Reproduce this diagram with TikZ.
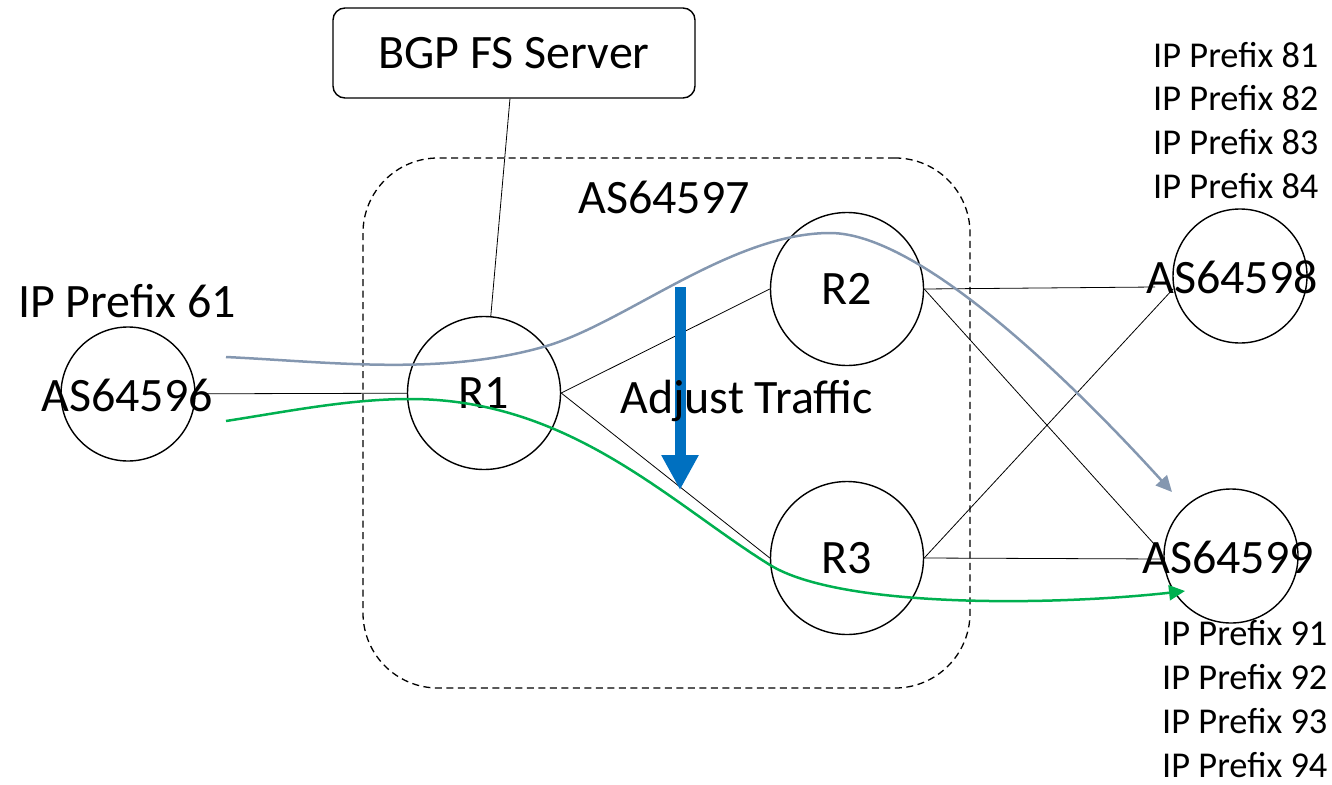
\documentclass[tikz,border=0pt]{standalone}
\usepackage{fontspec}
\setmainfont{Carlito}
\usepackage{tikz}
\usetikzlibrary{arrows.meta}

\newcommand{\bigtext}{\fontsize{48}{57}\selectfont}
\newcommand{\smalltext}{\fontsize{36.4}{44}\selectfont}

\definecolor{flowgray}{HTML}{8497B0}
\definecolor{flowgreen}{HTML}{00B050}
\definecolor{adjblue}{HTML}{0070C0}

\tikzset{
  router/.style={circle, draw, line width=1.4pt, minimum size=153pt, inner sep=0pt, font=\bigtext},
  asring/.style={circle, draw, line width=1.4pt, minimum size=134pt, inner sep=0pt},
  aslabel/.style={inner sep=0pt, font=\bigtext},
  server/.style={rectangle, draw, rounded corners=12pt, line width=1.4pt, minimum width=362pt, minimum height=90pt, font=\bigtext},
  asbox/.style={rectangle, draw, dashed, dash pattern=on 7pt off 4.5pt, rounded corners=75pt, line width=1.3pt, minimum width=607pt, minimum height=530pt},
  pfxtext/.style={inner sep=0pt, font=\smalltext, anchor=base west},
  link/.style={line width=0.8pt},
  flow/.style={line width=2.5pt, -{Triangle[length=16pt,width=15pt]}},
  adjust/.style={adjblue, line width=11pt, -{Triangle[length=35pt,width=35pt]}}
}

\begin{document}
\begin{tikzpicture}[x=1pt, y=-1pt]
  \useasboundingbox (0,0) rectangle (1332,784);

  % Define nodes
  \node[asbox] (as97) at (666.5,423) {};
  \node[server] (server) at (514,53) {BGP FS Server};
  \node[router] (R1) at (484,393) {R1};
  \node[router] (R2) at (847,289) {R2};
  \node[router] (R3) at (847,558) {R3};
  \node[asring] (as96) at (128,394) {};
  \node[asring] (as98) at (1240,276) {};
  \node[asring] (as99) at (1231,556) {};
  \node[aslabel] (as96 label) at (127,395) {AS64596};
  \node[aslabel] (as98 label) at (1232,277) {AS64598};
  \node[aslabel] (as99 label) at (1228,557) {AS64599};
  \node[aslabel, anchor=base west] (as97 label) at (578,213) {AS64597};
  \node[aslabel, anchor=base west] (p61) at (18,317) {IP Prefix 61};

  \foreach \n [count=\i from 0] in {81,82,83,84}
    \node[pfxtext] (p\n) at (1153,67+43.7*\i) {IP Prefix \n};
  \foreach \n [count=\i from 0] in {91,92,93,94}
    \node[pfxtext] (p\n) at (1162,645+44*\i) {IP Prefix \n};

  % Free ends
  \coordinate (as98 a) at (1155,287);
  \coordinate (as98 b) at (1173,289);
  \coordinate (as99 a) at (1155,545);
  \coordinate (as99 b) at (1164,559);
  \coordinate (adj top) at (680,287);
  \coordinate (adj tip) at (680,490);
  \coordinate (gray in) at (226,357);
  \coordinate (gray out) at (1172,492);
  \coordinate (green in) at (226,421);
  \coordinate (green out) at (1185,591);

  % Connect the nodes
  \draw[link] (server) -- (R1);
  \draw[link] (as96) -- (R1);
  \draw[link] (R1.east) -- (R2.west);
  \draw[link] (R1.east) -- (R3.west);
  \draw[link] (R2.east) -- (as98 a);
  \draw[link] (R2.east) -- (as99 a);
  \draw[link] (R3.east) -- (as98 b);
  \draw[link] (R3.east) -- (as99 b);

  % Traffic flows
  \draw[flow, flowgray] (gray in) .. controls (330,362) and (440,376) .. (543,347)
    .. controls (623,325) and (730,233) .. (830,233)
    .. controls (920,233) and (1072,382) .. (gray out);
  \draw[flow, flowgreen] (green in) .. controls (290,411) and (350,399) .. (410,399)
    .. controls (570,399) and (670,503) .. (770,565)
    .. controls (840,608) and (1050,606) .. (green out);

  \draw[adjust] (adj top) -- (adj tip);
  \node[aslabel, anchor=base west] (adj label) at (620,413) {Adjust Traffic};

\end{tikzpicture}
\end{document}
